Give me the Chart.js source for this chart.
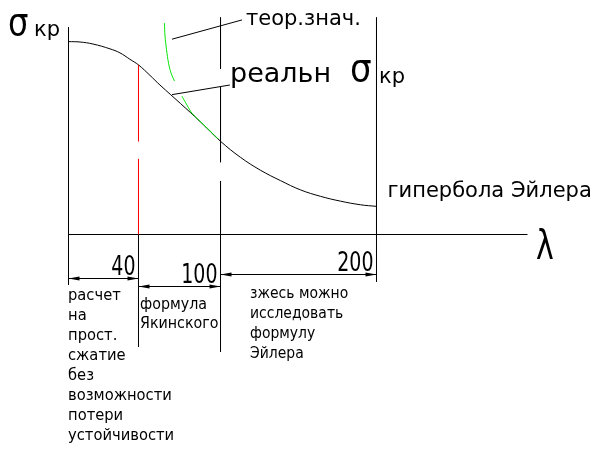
<!DOCTYPE html>
<html>
<head>
<meta charset="utf-8">
<title>σкр(λ)</title>
<script src="https://cdn.jsdelivr.net/npm/chart.js@4.4.1/dist/chart.umd.min.js"></script>
<style>
  body { margin: 0; background: #fff; }
  canvas { display: block; }
</style>
</head>
<body>
<canvas id="chart" width="609" height="455"></canvas>
<script>
// readings: λ (slenderness) and σкр in arbitrary stress units
const lambdaReal = [0, 6.6, 14, 23.7, 29.4, 35.1, 40, 48.4, 55.7, 70.7, 85.4, 100, 112.8, 125.6, 138.5, 151.3, 164.1, 176.9, 189.7, 200];
const sigmaReal = [240, 239.5, 237, 231, 226, 218, 211, 198, 186, 163, 140, 116, 96, 80, 67, 55.5, 47.5, 41.5, 37, 35];

// theoretical (Euler) curve, null = break in the drawn line
const lambdaEuler = [59.0, 59.4, 60.5, 62.0, 63.8, 66.3, null, 71.8, 75.5, 79.1, 85.0, 92.3, 98.2];
const sigmaEuler = [263, 247, 230, 213, 201, 191, null, 172, 161, 151, 141, 129, 119];

const lambdaMarks = [40, 100, 200];
const markLabels = ["40", "100", "200"];

// vertical marks (σ along a fixed λ), null = gap
const sigmaAt40 = [211, 116, null, 94, 0];
const sigmaAt100 = [270, 206, null, 183.5, 90, null, 66.6, 0];
const sigmaAt200 = [270, 0];

const axisLambda = [0, 0, 300];
const axisSigma = [258, 0, 0];

const leaderLambda = [64.5, 113.8, null, 64.5, 106];
const leaderSigma = [243, 267, null, 174, 186];

const lambdaMax = 300;
const sigmaMax = 270;

const leftNote = ["расчет", "на", "прост.", "сжатие", "без", "возможности", "потери", "устойчивости"];
const midNote = ["формула", "Якинского"];
const rightNote = ["зжесь можно", "исследовать", "формулу", "Эйлера"];

// the sketch is not to scale: λ axis is piecewise linear
const axisBreaks = [0, 40, 100, 200, 300];
const breakShare = [0, 0.1525, 0.3312, 0.671, 1];

class BrokenScale extends Chart.LinearScale {
  getPixelForValue(value) {
    let d = 0;
    for (let i = 1; i < axisBreaks.length; i++) {
      if (value <= axisBreaks[i] || i === axisBreaks.length - 1) {
        const t = (value - axisBreaks[i - 1]) / (axisBreaks[i] - axisBreaks[i - 1]);
        d = breakShare[i - 1] + t * (breakShare[i] - breakShare[i - 1]);
        break;
      }
    }
    return this.getPixelForDecimal(d);
  }
}
BrokenScale.id = "broken";
BrokenScale.defaults = Chart.LinearScale.defaults;
Chart.register(BrokenScale);

function pts(xs, ys) {
  return ys.map((y, i) => ({ x: Array.isArray(xs) ? xs[i] : xs, y: y }));
}

function line(ctx, x1, y1, x2, y2) {
  ctx.beginPath();
  ctx.moveTo(x1, y1);
  ctx.lineTo(x2, y2);
  ctx.stroke();
}

function arrow(ctx, x, y, dir) {
  ctx.beginPath();
  ctx.moveTo(x, y);
  ctx.lineTo(x + dir * 11, y - 2);
  ctx.lineTo(x + dir * 11, y + 2);
  ctx.closePath();
  ctx.fill();
}

function text(ctx, str, x, y, size, sx, align) {
  ctx.save();
  ctx.translate(x, y);
  ctx.scale(sx || 1, 1);
  ctx.font = size + 'px "DejaVu Sans"';
  ctx.textAlign = align || "left";
  ctx.textBaseline = "alphabetic";
  ctx.fillText(str, 0, 0);
  ctx.restore();
}

const notes = {
  id: "notes",
  afterDraw(chart) {
    const ctx = chart.ctx;
    const xs = chart.scales.x;
    const ys = chart.scales.y;
    const base = ys.getPixelForValue(0);
    ctx.save();
    ctx.fillStyle = "#000";
    ctx.strokeStyle = "#000";
    ctx.lineWidth = 1;

    // extension and dimension lines under the λ axis
    const stops = [0].concat(lambdaMarks);
    const ext = [50.5, 112.5, 117.5, 47.5];
    stops.forEach((l, i) => {
      const px = xs.getPixelForValue(l);
      line(ctx, px, base, px, base + ext[i]);
    });
    const dimY = [44, 52, 40];
    lambdaMarks.forEach((l, i) => {
      const a = xs.getPixelForValue(stops[i]);
      const b = xs.getPixelForValue(l);
      const y = base + dimY[i];
      line(ctx, a, y, b, y);
      arrow(ctx, a, y, 1);
      arrow(ctx, b, y, -1);
      text(ctx, markLabels[i], b - 3, y - 3.5, 26, 0.73, "right");
    });

    // notes under the dimensions
    const x0 = xs.getPixelForValue(0) - 0.5;
    leftNote.forEach((s, i) => text(ctx, s, x0, base + 65.5 + 20 * i, 15.5, 0.95));
    const x1 = xs.getPixelForValue(40) + 1.5;
    midNote.forEach((s, i) => text(ctx, s, x1, base + 74.5 + 19 * i, 15.5, 0.92));
    const x2 = xs.getPixelForValue(100) + 29.5;
    rightNote.forEach((s, i) => text(ctx, s, x2, base + 63.5 + 20 * i, 15.5, 0.9));

    // axis titles and curve labels
    text(ctx, "σ", 8, 35, 38, 0.85);
    text(ctx, "кр", 34, 36, 21);
    text(ctx, "λ", 536, 259, 40, 0.75);
    text(ctx, "теор.знач.", 246, 25, 21);
    text(ctx, "реальн", 230, 82, 27);
    text(ctx, "σ", 350, 81, 38, 0.9);
    text(ctx, "кр", 379, 83, 21);
    text(ctx, "гипербола Эйлера", xs.getPixelForValue(200) + 11, 197, 21);
    ctx.restore();
  }
};

const flat = { borderColor: "#000", borderWidth: 1, pointRadius: 0, tension: 0, clip: false };

// first dataset is drawn on top
new Chart(document.getElementById("chart"), {
  type: "line",
  data: {
    datasets: [
      { data: pts(lambdaEuler, sigmaEuler), borderColor: "#00e600", borderWidth: 1, pointRadius: 0,
        tension: 0.4, clip: false },
      Object.assign({ data: pts(40, sigmaAt40) }, flat, { borderColor: "#ff0000" }),
      { data: pts(lambdaReal, sigmaReal), borderColor: "#000", borderWidth: 1, pointRadius: 0,
        tension: 0.4, clip: false },
      Object.assign({ data: pts(axisLambda, axisSigma) }, flat),
      Object.assign({ data: pts(100, sigmaAt100) }, flat),
      Object.assign({ data: pts(200, sigmaAt200) }, flat),
      Object.assign({ data: pts(leaderLambda, leaderSigma) }, flat)
    ]
  },
  options: {
    responsive: false,
    animation: false,
    events: [],
    layout: { padding: { left: 68.5, right: 81.5, top: 17.5, bottom: 220.5 } },
    scales: {
      x: { type: "broken", min: 0, max: lambdaMax, display: false },
      y: { type: "linear", min: 0, max: sigmaMax, display: false }
    },
    plugins: { legend: { display: false }, tooltip: { enabled: false } }
  },
  plugins: [notes]
});
</script>
</body>
</html>
